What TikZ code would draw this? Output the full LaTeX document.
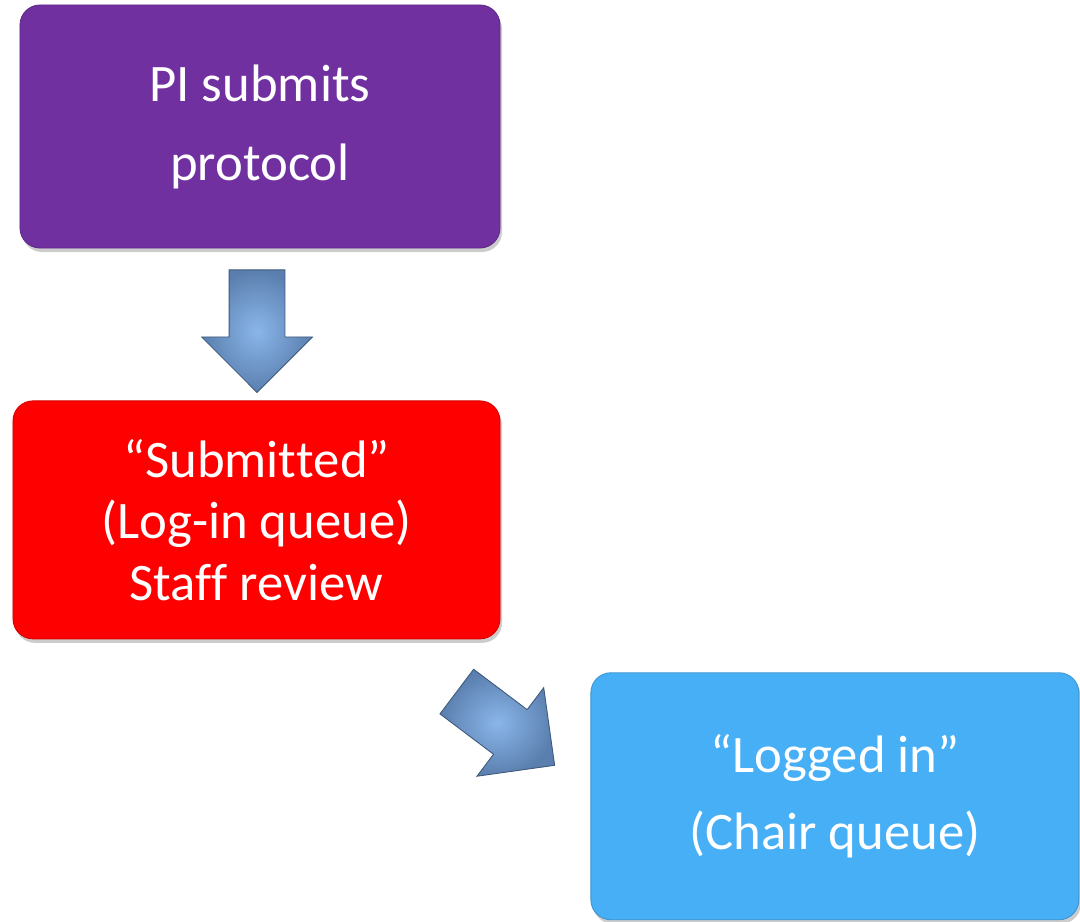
\documentclass[tikz,border=0pt]{standalone}
\usepackage{fontspec}
\setmainfont{Carlito}
\usetikzlibrary{positioning, calc, shapes.arrows, shadows}

\definecolor{stepPurple}{HTML}{7030A0}
\definecolor{stepRed}{HTML}{FF0000}
\definecolor{stepBlue}{HTML}{47AFF5}
\definecolor{arrowLight}{HTML}{8AB6EA}
\definecolor{arrowDark}{HTML}{5A7FAE}

\begin{document}
\begin{tikzpicture}[
	stepbox/.style={rectangle, rounded corners=0.4cm, text=white, align=center, inner sep=0pt,
		fill=#1, draw=#1!85!black, line width=0.5pt,
		drop shadow={shadow xshift=0.04cm, shadow yshift=-0.08cm, opacity=0.4}},
	flowarrow/.style={single arrow, single arrow head extend=0.55cm, inner sep=0.55cm,
		minimum height=2.45cm, draw=arrowDark!70!black, line width=0.5pt,
		inner color=arrowLight, outer color=arrowDark, anchor=tail}
	]
	\useasboundingbox (0,0) rectangle (21.6,-18.42);
	
	\node[stepbox=stepPurple, minimum width=9.6cm, minimum height=4.86cm,
		font=\fontsize{30}{45}\selectfont] (submit) at (5.2,-2.53) {PI submits\\protocol};
	\node[stepbox=stepRed, minimum width=9.74cm, minimum height=4.76cm,
		font=\fontsize{30}{35}\selectfont, below=3.04cm of submit, xshift=-0.07cm] (review)
		{``Submit\kern0pt ted''\\(Log-in queue)\\Staf\kern0pt f review};
	\node[stepbox=stepBlue, minimum width=9.76cm, minimum height=4.94cm,
		font=\fontsize{30}{44}\selectfont, below right=0.66cm and 1.8cm of review] (chair)
		{``Logged in''\\(Chair queue)};
	
	\node[flowarrow, rotate=-90] (down) at ($(submit.south)+(-0.06,-0.42)$) {};
	\node[flowarrow, rotate=-37] (across) at ($(review.south east)+(-0.88,-1.04)$) {};
\end{tikzpicture}
\end{document}
